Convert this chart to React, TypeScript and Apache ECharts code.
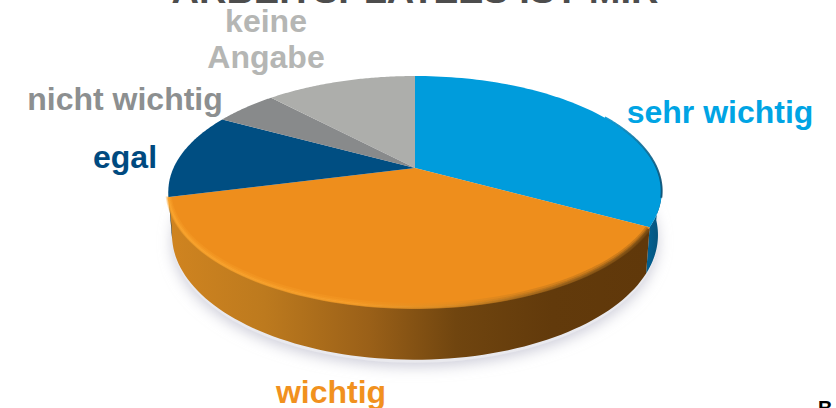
import React, { useEffect, useRef } from "react";
import * as echarts from "echarts";

const categories = ["sehr wichtig", "wichtig", "egal", "nicht wichtig", "keine Angabe"];
const values = [33, 38, 12, 5, 12];
const topColors = ["#009cdc", "#ee8e1c", "#004e82", "#888a8b", "#adaeab"];
const labelColors = ["#00a4e4", "#f1911e", "#004a80", "#8c8f90", "#b5b6b4"];

const CX = 415, CY = 168, K = 0.2035, A = 110.7, B = 241.5;
const FONT = "'Liberation Sans', Arial, sans-serif";
const total = values.reduce((s, v) => s + v, 0);
const startAngle = (i: number) => (values.slice(0, i).reduce((s, v) => s + v, 0) / total) * Math.PI * 2;

function topRim(t: number): number[] {
  const u = Math.sin(t), v = -Math.cos(t), d = 1 - K * v;
  return [CX + (B * u) / d, CY + (A * v) / d];
}
function bottomRim(t: number): number[] {
  const [x, y] = topRim(t);
  return [CX + (x - CX) * 0.985, 235 + (y - 191.5) * 1.08];
}
function arc(a: number, b: number, fn: (t: number) => number[], n = 80): number[][] {
  const pts: number[][] = [];
  for (let j = 0; j <= n; j++) pts.push(fn(a + ((b - a) * j) / n));
  return pts;
}
const hGrad = (x0: number, x1: number, stops: [number, string][]) =>
  new echarts.graphic.LinearGradient(x0, 0, x1, 0, stops.map(([offset, color]) => ({ offset, color })), true);

const sideFills = (i: number) =>
  i === 0
    ? hGrad(625, 665, [[0, "#00507e"], [0.6, "#015f90"], [1, "#0a4a6c"]])
    : i === 1
    ? hGrad(168, 648, [[0, "#d08420"], [0.2, "#bd7a1e"], [0.42, "#9a6018"], [0.6, "#70450f"], [0.8, "#623a0b"], [1, "#60380a"]])
    : "#00375c";

function renderShadow(params: any) {
  if (params.dataIndex !== 0) return null as any;
  const pts = arc(0, Math.PI * 2, (t) => {
    const [x, y] = bottomRim(t);
    return [x, y + 3];
  }, 160);
  return {
    type: "polygon",
    shape: { points: pts },
    style: { fill: "#e9e9ee", shadowBlur: 14, shadowColor: "rgba(190,190,205,0.75)", shadowOffsetY: 4 },
  };
}

function renderSide(params: any) {
  const i = params.dataIndex;
  const a = Math.max(startAngle(i), (95 * Math.PI) / 180);
  const b = Math.min(startAngle(i + 1), (259 * Math.PI) / 180);
  if (b <= a) return null as any;
  const pts = [...arc(a, b, topRim), ...arc(a, b, bottomRim).reverse()];
  return { type: "polygon", shape: { points: pts }, style: { fill: sideFills(i) } };
}

function rimStroke(a: number, b: number, offset: number, lineWidth: number, stroke: any, opacity: number) {
  return {
    type: "polyline",
    shape: {
      points: arc(a, b, (t) => {
        const [x, y] = topRim(t);
        return [x, y + offset];
      }),
    },
    style: { fill: "none", lineWidth, stroke, opacity },
  };
}

function renderTop(params: any, api: any) {
  const i = params.dataIndex;
  const a = startAngle(i);
  const b = a + (api.value(0) / total) * Math.PI * 2;
  const children: any[] = [
    { type: "polygon", shape: { points: [[CX, CY], ...arc(a, b, topRim)] }, style: { fill: topColors[i] } },
  ];
  if (i === 1) {
    const grad = () =>
      hGrad(170, 646, [[0, "#f9a32c"], [0.38, "#f79e28"], [0.6, "#d98a22"], [0.8, "#a0651a"], [1, "#7a4c12"]]);
    children.push(rimStroke(a + 0.015, b, -1, 6, grad(), 0.3));
    children.push(rimStroke(a + 0.015, b, 0, 4, grad(), 0.45));
    children.push(rimStroke(a + 0.015, b, 0.5, 2, grad(), 0.85));
  }
  if (i === 0) {
    const blueEdge = () => hGrad(600, 664, [[0, "#009cdc"], [0.6, "#07719f"], [1, "#0b4d70"]]);
    children.push(rimStroke((60 * Math.PI) / 180, (105 * Math.PI) / 180, -0.5, 2, blueEdge(), 0.9));
  }
  return { type: "group", children };
}

const labelAnchors: [string, number, number, string][] = [
  ["sehr wichtig", 720, 112, labelColors[0]],
  ["wichtig", 331, 392, labelColors[1]],
  ["egal", 125, 157, labelColors[2]],
  ["nicht wichtig", 125, 99, labelColors[3]],
  ["keine", 266, 21, labelColors[4]],
  ["Angabe", 266, 57, labelColors[4]],
];

export default function App() {
  const ref = useRef<HTMLDivElement>(null);
  useEffect(() => {
    document.body.style.margin = "0";
    const chart = echarts.init(ref.current!, undefined, { renderer: "svg" });
    const data = values.map((value, i) => ({ name: categories[i], value }));
    chart.setOption({
      animation: false,
      backgroundColor: "#ffffff",
      series: [
        { type: "custom", coordinateSystem: "none", z: 1, silent: true, renderItem: renderShadow, data },
        { type: "custom", coordinateSystem: "none", z: 2, silent: true, renderItem: renderSide, data },
        { type: "custom", coordinateSystem: "none", z: 3, silent: true, renderItem: renderTop, data },
      ],
      graphic: [
        {
          type: "text", x: 415, y: -10, z: 10,
          style: { text: "ARBEITSPLATZES IST MIR", font: `bold 38px ${FONT}`, fill: "#4d4d4d", align: "center", verticalAlign: "middle" },
        },
        ...labelAnchors.map(([text, x, y, fill]) => ({
          type: "text", x, y, z: 10,
          style: { text, font: `bold 32px ${FONT}`, fill, align: "center", verticalAlign: "middle" },
        })),
        {
          type: "text", x: 818, y: 398, z: 10,
          style: { text: "B", font: `bold 20px ${FONT}`, fill: "#000000", align: "left", verticalAlign: "top" },
        },
      ],
    });
    return () => chart.dispose();
  }, []);
  return <div ref={ref} style={{ position: "absolute", left: 0, top: 0, width: 836, height: 408 }} />;
}
